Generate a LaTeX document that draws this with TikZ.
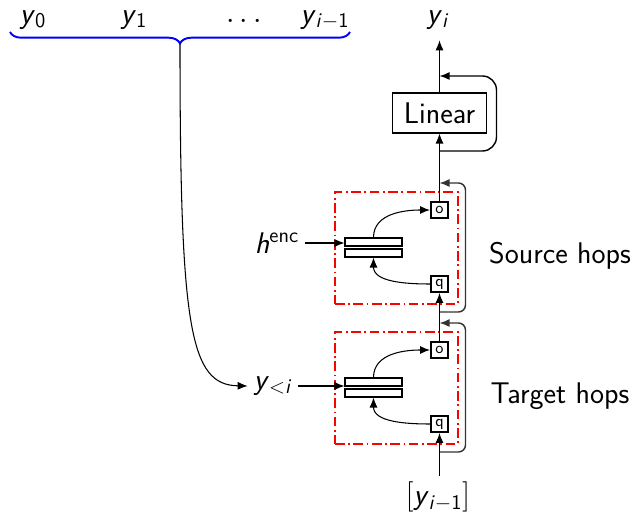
\documentclass[tikz,border=0pt]{standalone}
\usetikzlibrary{arrows.meta,decorations.pathreplacing,positioning}
\newcommand{\yv}[1]{\textit{y}\textsubscript{#1}}
\tikzset{
  blk/.style={draw, line width=0.6pt, minimum width=1.88cm, minimum height=0.8cm,
              inner sep=0pt},
  slot/.style={draw, line width=1.1pt, minimum width=0.34cm, minimum height=0.32cm,
               inner sep=0pt, font=\sffamily\small},
  bar/.style={draw, line width=0.6pt, fill=white, minimum width=1.14cm,
              minimum height=0.16cm, inner sep=0pt},
  hop/.style={draw=red, line width=1.1pt, minimum width=2.46cm, minimum height=2.24cm,
              inner sep=0pt, dash pattern=on 5.5pt off 2pt on 1pt off 2pt},
  arr/.style={-{Latex[length=2mm,width=1.6mm]}, line width=0.6pt},
  res/.style={arr, draw=black!80, line width=0.8pt, rounded corners=4pt},
}

\begin{document}
\begin{tikzpicture}[x=0.02cm, y=-0.02cm, font=\fontsize{17}{20}\selectfont\sffamily]
\useasboundingbox (0,0) rectangle (636,516);

% previous outputs
\node (y0) at (33,20) {\yv{0}};
\node (y1) at (134,20) {\yv{1}};
\node (dots) at (244,22) {$\cdots$};
\node (ylast) at (325,20) {\yv{\textit{i}$-$1}};
\draw[blue, line width=1.1pt, decorate, decoration={brace, mirror, amplitude=6.5pt}]
  (10,32) -- (350,32);
\coordinate (tip) at (180,44);

% hop blocks
\foreach \nm/\dy in {src/0, tgt/140} {
  \node[hop] (hop\nm) at (396.5,{248+\dy}) {};
  \node[bar] (up\nm) at (373.5,{242+\dy}) {};
  \node[bar] (lo\nm) at (373.5,{253+\dy}) {};
  \node[slot] (o\nm) at (439.5,{210+\dy}) {o};
  \node[slot] (q\nm) at (439.5,{284+\dy}) {q};
  \draw[arr] (up\nm.north) to[out=90, in=180] (o\nm.west);
  \draw[arr] (q\nm.west) to[out=180, in=-90] (lo\nm.south);
  \coordinate (rs\nm) at (439.5,{312+\dy});
  \coordinate (re\nm) at (439.5,{183+\dy});
  \draw[res] (rs\nm) -- ++(26,0) |- (re\nm);
}
\node (srclab) at (560,256) {Source hops};
\node (tgtlab) at (560,396) {Target hops};

% side inputs
\node (henc) at (277,243) {\textit{h}\textsuperscript{enc}};
\draw[arr] (henc.east) -- (upsrc.west |- henc.east);
\node (yless) at (273,386) {\yv{<\textit{i}}};
\draw[arr] (yless.east) -- (uptgt.west |- yless.east);
\draw[arr] (tip) .. controls (180,330) and (190,385) .. (yless.west);

% main column
\node (inp) at (438,497) {$[$\yv{\textit{i}$-$1}$]$};
\node[blk] (lin) at (439.5,113) {Linear};
\node[inner sep=6pt] (yi) at (438,20) {\yv{\textit{i}}};
\draw[arr] (inp.north -| qtgt.south) -- (qtgt.south);
\draw[arr] (otgt.north) -- (qsrc.south);
\draw[arr] (osrc.north) -- (lin.south);
\draw[arr] (lin.north) -- (yi.south -| lin.north);
\coordinate (lrs) at (439.5,151);
\coordinate (lre) at (439.5,76);
\draw[res, rounded corners=8pt, draw=black] (lrs) -- ++(57,0) |- (lre);

\end{tikzpicture}
\end{document}
